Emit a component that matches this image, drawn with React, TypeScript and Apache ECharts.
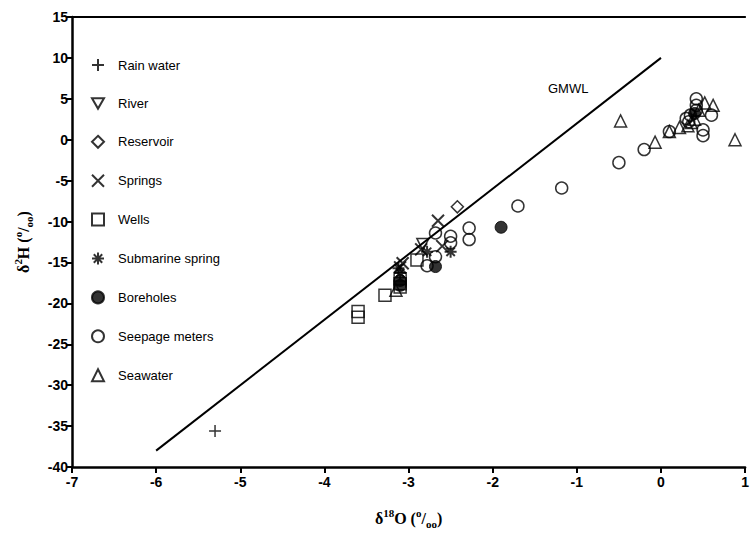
import React, { useEffect, useRef } from "react";
import * as echarts from "echarts";

const rainWater: number[][] = [[-5.3, -35.6]];
const river: number[][] = [[-2.83, -12.8]];
const reservoir: number[][] = [[-2.42, -8.2]];
const springs: number[][] = [[-2.65, -9.9], [-2.6, -13.0], [-2.85, -13.4], [-3.07, -15.1], [-3.1, -15.6]];
const wells: number[][] = [[-2.9, -14.7], [-3.1, -17.0], [-3.1, -17.6], [-3.1, -18.0], [-3.28, -19.0], [-3.6, -21.0], [-3.6, -21.7]];
const submarineSpring: number[][] = [[-2.78, -13.7], [-2.5, -13.7], [-3.12, -15.7], [-3.1, -16.3]];
const boreholes: number[][] = [[-1.9, -10.7], [-2.68, -15.5], [-3.1, -17.2], [-3.1, -17.8], [0.4, 3.2]];
const seepageMeters: number[][] = [
  [-1.18, -5.9], [-1.7, -8.1], [-2.28, -10.8], [-2.28, -12.2], [-2.5, -11.8], [-2.5, -12.6],
  [-2.68, -11.4], [-2.68, -14.3], [-2.78, -15.4], [-0.5, -2.8], [-0.2, -1.2], [0.1, 1.0],
  [0.3, 2.6], [0.35, 3.0], [0.42, 5.0], [0.42, 4.2], [0.42, 3.6], [0.6, 3.0], [0.5, 1.2], [0.5, 0.5], [0.33, 2.2],
];
const seawater: number[][] = [
  [-3.15, -18.4], [-0.48, 2.3], [-0.07, -0.3], [0.1, 1.0], [0.22, 1.5], [0.32, 1.7], [0.36, 2.1],
  [0.4, 2.5], [0.52, 4.5], [0.62, 4.2], [0.88, 0.0], [0.45, 3.6],
];
const gmwl: number[][] = [[-6, -38], [0, 10]];

const xTicks = { min: -7, max: 1, interval: 1 };
const yTicks = { min: -40, max: 15, interval: 5 };

const PLUS = "path://M0 5L10 5M5 0L5 10";
const CROSS = "path://M0 0L10 10M10 0L0 10";
const STAR = "path://M5 0L5 10M0 5L10 5M1.5 1.5L8.5 8.5M8.5 1.5L1.5 8.5";
const DOWN_TRI = "path://M0 0L10 0L5 8.7Z";

const hollow = { color: "rgba(0,0,0,0)", borderColor: "#000", borderWidth: 1.5 };

export default function App() {
  const ref = useRef<HTMLDivElement>(null);
  useEffect(() => {
    document.body.style.margin = "0";
    const chart = echarts.init(ref.current!, null, { renderer: "svg" });
    const serif = "'Liberation Serif', 'Times New Roman', serif";
    const nameRich = {
      b: { fontFamily: serif, fontWeight: "bold" as const, fontSize: 16, color: "#000", lineHeight: 22 },
      sup: { fontFamily: serif, fontWeight: "bold" as const, fontSize: 11, color: "#000", verticalAlign: "top" as const, lineHeight: 11 },
      sub: { fontFamily: serif, fontWeight: "bold" as const, fontSize: 11, color: "#000", verticalAlign: "bottom" as const, lineHeight: 11 },
    };
    const axisLabel = { color: "#000", fontWeight: "bold" as const, fontSize: 14, fontFamily: "'Liberation Sans', Arial, sans-serif" };
    const mk = (name: string, data: number[][], symbol: string, size: number, itemStyle: any) => ({
      type: "scatter",
      name,
      data,
      symbol,
      symbolSize: size,
      itemStyle,
      xAxisIndex: 0,
    });
    chart.setOption({
      animation: false,
      grid: { left: 72, right: 5, top: 17, bottom: 67, containLabel: false },
      legend: {
        orient: "vertical",
        left: 86,
        top: 53,
        itemWidth: 12,
        itemHeight: 12,
        itemGap: 24.9,
        textStyle: { fontSize: 13, color: "#000", fontFamily: "'Liberation Sans', Arial, sans-serif", padding: [0, 0, 0, 9] },
        data: ["Rain water", "River", "Reservoir", "Springs", "Wells", "Submarine spring", "Boreholes", "Seepage meters", "Seawater"],
      },
      xAxis: [
        {
          type: "value",
          min: xTicks.min,
          max: xTicks.max,
          interval: xTicks.interval,
          axisLine: { onZero: false, lineStyle: { color: "#000", width: 2.5 } },
          axisTick: { length: 6, lineStyle: { color: "#000", width: 2 } },
          axisLabel: { ...axisLabel, margin: 8 },
          splitLine: { show: false },
          name: "{b|δ}{sup|18}{b|O (}{sup|o}{b|/}{sub|oo}{b|)}",
          nameLocation: "middle",
          nameGap: 40,
          nameTextStyle: { rich: nameRich },
        },
        {
          type: "value",
          position: "top",
          min: xTicks.min,
          max: xTicks.max,
          interval: xTicks.interval,
          axisLine: { onZero: false, lineStyle: { color: "#000", width: 2 } },
          axisTick: { show: false },
          axisLabel: { show: false },
          splitLine: { show: false },
        },
      ],
      yAxis: {
        type: "value",
        min: yTicks.min,
        max: yTicks.max,
        interval: yTicks.interval,
        axisLine: { onZero: false, lineStyle: { color: "#000", width: 2.5 } },
        axisTick: { length: 6, lineStyle: { color: "#000", width: 2 } },
        axisLabel: { ...axisLabel, margin: 4 },
        splitLine: { show: false },
        name: "{b|δ}{sup|2}{b|H (}{sup|o}{b|/}{sub|oo}{b|)}",
        nameLocation: "middle",
        nameGap: 38,
        nameTextStyle: { rich: nameRich },
      },
      graphic: [
        {
          type: "text",
          left: 548,
          top: 82,
          style: { text: "GMWL", fontSize: 13, fill: "#000", fontFamily: "'Liberation Sans', Arial, sans-serif" },
        },
      ],
      series: [
        {
          type: "line",
          name: "GMWL",
          data: gmwl,
          symbol: "none",
          lineStyle: { color: "#000", width: 2 },
          z: 1,
        },
        mk("Rain water", rainWater, PLUS, 12, hollow),
        mk("River", river, DOWN_TRI, 12, hollow),
        mk("Reservoir", reservoir, "diamond", 12, hollow),
        mk("Springs", springs, CROSS, 12, { ...hollow, borderWidth: 2 }),
        mk("Wells", wells, "rect", 12, hollow),
        mk("Submarine spring", submarineSpring, STAR, 12, { ...hollow, borderWidth: 2 }),
        mk("Boreholes", boreholes, "circle", 12, { color: "#000", borderColor: "#000", borderWidth: 1 }),
        mk("Seepage meters", seepageMeters, "circle", 12, hollow),
        mk("Seawater", seawater, "triangle", 12, hollow),
      ],
    });
    return () => chart.dispose();
  }, []);
  return <div ref={ref} style={{ width: 752, height: 534 }} />;
}
